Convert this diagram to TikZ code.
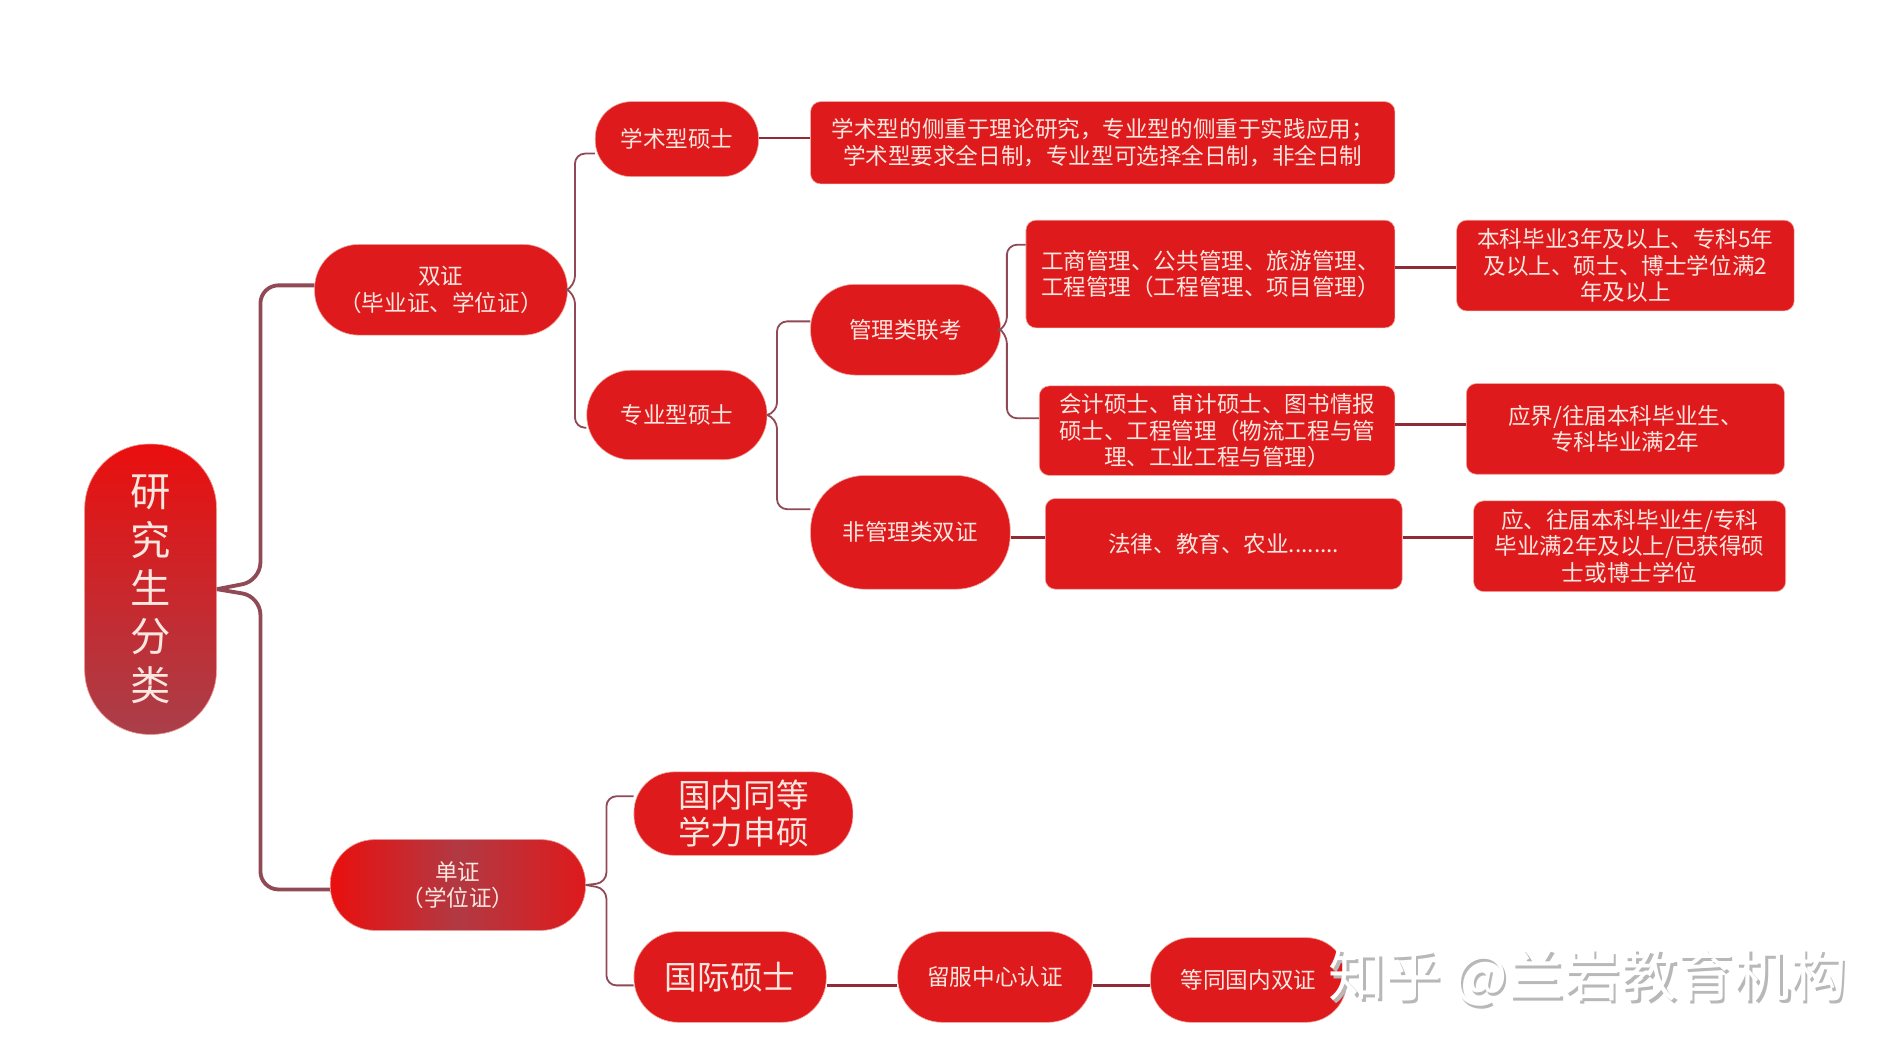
\documentclass[tikz,border=0pt]{standalone}
\usepackage{fontspec}
\setmainfont{Noto Sans CJK SC}
\usepackage{xcolor}
\usetikzlibrary{positioning}
\definecolor{pillred}{HTML}{DE1A1C}
\definecolor{topred}{HTML}{EA0F0E}
\definecolor{duskred}{HTML}{A93F4A}
\definecolor{wirerose}{HTML}{8F4A56}
\definecolor{wiredark}{HTML}{8E2B35}
\definecolor{inktext}{HTML}{FCE6E0}
\definecolor{edgepink}{HTML}{F0A8A0}
\tikzset{
  basebox/.style={draw=edgepink, line width=0.3pt, fill=pillred, text=inktext, align=center, inner sep=0pt,
    font=\fontsize{11.2}{13.2}\selectfont},
  pill/.style={basebox, rounded corners=22pt},
  card/.style={basebox, rounded corners=5pt},
  trunk/.style={wirerose, line width=1.9pt, rounded corners=9pt},
  bough/.style={wirerose, line width=0.9pt, rounded corners=5pt},
  twig/.style={wiredark, line width=1.1pt},
  mark text/.style={font=\fontsize{28}{32}\selectfont, inner sep=0pt, anchor=west},
}
\begin{document}
\begin{tikzpicture}[x=0.6pt,y=-0.6pt]
\useasboundingbox (0,0) rectangle (1568,873.7);

\node[basebox, rounded corners=32pt, minimum width=65.4pt, minimum height=144pt, top color=topred, bottom color=duskred,
  font=\fontsize{20}{24}\selectfont] (root) at (124.5,487) {研\\究\\生\\分\\类};

\node[pill, minimum width=125.4pt, minimum height=45pt] (dual) at (364.5,239.5) {双证\\（毕业证、学位证）};
\node[pill, minimum width=126.6pt, minimum height=45pt, left color=topred, right color=pillred, middle color=duskred!85!pillred] (single) at (378.5,731.5) {单证\\（学位证）};

\node[pill, rounded corners=18pt, minimum width=81pt, minimum height=37.2pt] (academic) at (559.5,115) {学术型硕士};
\node[pill, minimum width=89.4pt, minimum height=44.4pt] (applied) at (559.5,343) {专业型硕士};
\node[card, minimum width=289.8pt, minimum height=40.8pt] (acnote) at (911.5,118) {学术型的侧重于理论研究，专业型的侧重于实践应用；\\学术型要求全日制，专业型可选择全日制，非全日制};

\node[pill, minimum width=94.2pt, minimum height=45pt] (mgmt) at (748.5,272.5) {管理类联考};
\node[pill, rounded corners=27pt, minimum width=99pt, minimum height=56.4pt] (nonmgmt) at (752.5,440) {非管理类双证};

\node[card, minimum width=183pt, minimum height=53.4pt] (biz) at (1000.5,226.5) {工商管理、公共管理、旅游管理、\\工程管理（工程管理、项目管理）};
\node[card, minimum width=176.4pt, minimum height=44.4pt] (acct) at (1006,356) {会计硕士、审计硕士、图书情报\\硕士、工程管理（物流工程与管\\理、工业工程与管理）};
\node[card, minimum width=177pt, minimum height=45pt] (law) at (1011.5,449.5) {法律、教育、农业........};

\node[card, minimum width=167.4pt, minimum height=45pt] (bizreq) at (1343.5,219.5) {本科毕业3年及以上、专科5年\\及以上、硕士、博士学位满2\\年及以上};
\node[card, minimum width=157.8pt, minimum height=45pt] (acctreq) at (1343.5,354.5) {应界/往届本科毕业生、\\专科毕业满2年};
\node[card, minimum width=154.8pt, minimum height=45pt] (lawreq) at (1347,451.5) {应、往届本科毕业生/专科\\毕业满2年及以上/已获得硕\\士或博士学位};

\node[pill, rounded corners=20pt, minimum width=108.6pt, minimum height=41.4pt, font=\fontsize{16.2}{18.6}\selectfont] (domestic) at (614.5,672.5) {国内同等\\学力申硕};
\node[pill, minimum width=95.4pt, minimum height=45pt, font=\fontsize{16.2}{18.6}\selectfont] (abroad) at (603.5,807.5) {国际硕士};
\node[pill, minimum width=96.6pt, minimum height=45pt] (center) at (822.5,807.5) {留服中心认证};
\node[pill, rounded corners=20pt, minimum width=97.2pt, minimum height=42pt] (equal) at (1032,810) {等同国内双证};

% branches
\draw[trunk] (root.east) -- ++(36,-7) |- (dual.178);
\draw[trunk] (root.east) -- ++(36,6) |- (single.182);
\draw[bough] (dual.east) -- ++(6,-3) |- (academic.190);
\draw[bough] (dual.east) -- ++(6,3) |- (applied.188);
\draw[bough] (applied.east) -- ++(8,-2) |- (mgmt.175);
\draw[bough] (applied.east) -- ++(8,3) |- (nonmgmt.167);
\draw[bough] (mgmt.east) -- ++(5,-2) |- (biz.171);
\draw[bough] (mgmt.east) -- ++(5,3) |- (acct.176);
\draw[bough] (single.east) -- ++(17,-2) |- (domestic.171);
\draw[bough] (single.east) -- ++(17,3) |- (abroad.185);

% straight links
\draw[twig] (academic.1) -- (academic.1 -| acnote.west);
\draw[twig] (biz.2) -- (biz.2 -| bizreq.west);
\draw[twig] (acct.2) -- (acct.2 -| acctreq.west);
\draw[twig] (nonmgmt.357) -- (nonmgmt.357 -| law.west);
\draw[twig] (law.2) -- (law.2 -| lawreq.west);
\draw[twig] (abroad.355) -- (abroad.355 -| center.west);
\draw[twig] (center.355) -- (center.355 -| equal.west);

% watermark
\node[mark text, text=black!28] (markshade) at (1100,810) {知乎 @兰岩教育机构};
\node[mark text, text=white] (mark) at (1098,808) {知乎 @兰岩教育机构};
\end{tikzpicture}
\end{document}
